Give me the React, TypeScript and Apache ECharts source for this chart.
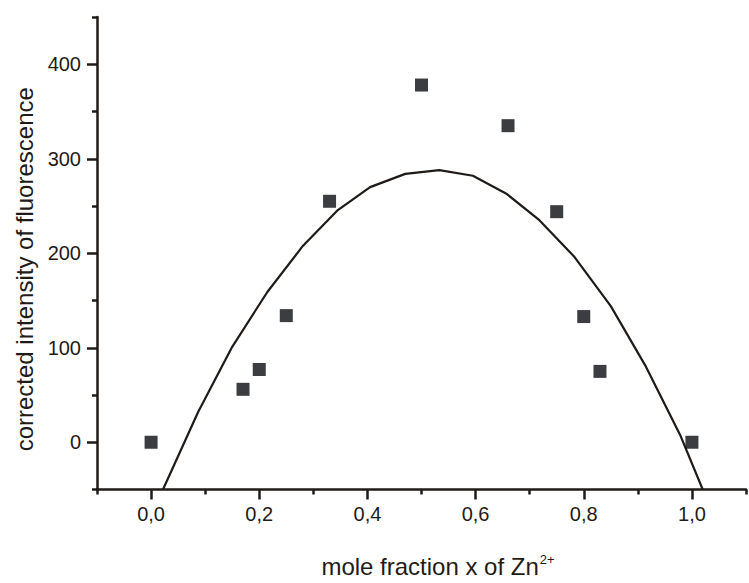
import React, { useEffect, useRef } from 'react';
import * as echarts from 'echarts';

const xMajor = [0, 0.2, 0.4, 0.6, 0.8, 1.0];
const xMinor = [-0.1, 0.1, 0.3, 0.5, 0.7, 0.9, 1.1];
const yMajor = [0, 100, 200, 300, 400];
const yMinor = [-50, 50, 150, 250, 350, 450];

const moleFraction = [0, 0.17, 0.2, 0.25, 0.33, 0.5, 0.66, 0.75, 0.8, 0.83, 1.0];
const intensity = [0, 56, 77, 134, 255, 378, 335, 244, 133, 75, 0];

const fitX = [0.022, 0.087, 0.150, 0.215, 0.281, 0.344, 0.405, 0.470, 0.533, 0.595, 0.657, 0.718, 0.783, 0.850, 0.915, 0.978, 1.020];
const fitY = [-50, 32, 101, 159, 208, 245, 270, 284, 288, 282, 263, 235, 196, 144, 80, 8, -50];

const INK = '#1f1b18';
const FONT = '"Liberation Sans", Arial, sans-serif';

export default function App() {
  const ref = useRef<HTMLDivElement>(null);
  useEffect(() => {
    document.body.style.margin = '0';
    if (!ref.current) return;
    const chart = echarts.init(ref.current, undefined, { renderer: 'svg' });
    const baseAxis = {
      splitLine: { show: false },
    };
    chart.setOption({
      animation: false,
      backgroundColor: '#ffffff',
      grid: { left: 97, right: 3, top: 17, bottom: 85, containLabel: false },
      xAxis: [
        {
          ...baseAxis,
          type: 'value',
          min: -0.1,
          max: 1.1,
          position: 'bottom',
          name: '{t|mole fraction x of Zn}{s|2+}',
          nameLocation: 'middle',
          nameGap: 63,
          nameTextStyle: {
            padding: [0, 0, 0, 33],
            rich: {
              t: { fontFamily: FONT, fontSize: 24, color: INK },
              s: { fontFamily: FONT, fontSize: 13, color: INK, verticalAlign: 'bottom', padding: [0, 0, 14, 1] },
            },
          },
          axisLine: { show: true, onZero: false, lineStyle: { color: INK, width: 2.5 } },
          axisTick: { show: true, customValues: xMajor, length: 10, lineStyle: { color: INK, width: 2.5 } },
          axisLabel: {
            show: true,
            customValues: xMajor,
            margin: 14,
            fontFamily: FONT,
            fontSize: 20,
            color: INK,
            formatter: (v: number) => v.toFixed(1).replace('.', ','),
          },
        },
        {
          ...baseAxis,
          type: 'value',
          min: -0.1,
          max: 1.1,
          position: 'bottom',
          axisLine: { show: false, onZero: false },
          axisTick: { show: true, customValues: xMinor, length: 5, lineStyle: { color: INK, width: 2.5 } },
          axisLabel: { show: false },
        },
      ],
      yAxis: [
        {
          ...baseAxis,
          type: 'value',
          min: -50,
          max: 450,
          position: 'left',
          name: 'corrected intensity of fluorescence',
          nameLocation: 'middle',
          nameGap: 60,
          nameTextStyle: { fontFamily: FONT, fontSize: 24, color: INK, padding: [0, 32, 0, 0] },
          axisLine: { show: true, onZero: false, lineStyle: { color: INK, width: 2.5 } },
          axisTick: { show: true, customValues: yMajor, length: 10, lineStyle: { color: INK, width: 2.5 } },
          axisLabel: {
            show: true,
            customValues: yMajor,
            margin: 16,
            fontFamily: FONT,
            fontSize: 20,
            color: INK,
          },
        },
        {
          ...baseAxis,
          type: 'value',
          min: -50,
          max: 450,
          position: 'left',
          axisLine: { show: false, onZero: false },
          axisTick: { show: true, customValues: yMinor, length: 5, lineStyle: { color: INK, width: 2.5 } },
          axisLabel: { show: false },
        },
      ],
      series: [
        {
          type: 'line',
          xAxisIndex: 0,
          yAxisIndex: 0,
          data: fitX.map((x, i) => [x, fitY[i]]),
          showSymbol: false,
          symbol: 'none',
          lineStyle: { color: INK, width: 2.2 },
          z: 2,
        },
        {
          type: 'scatter',
          xAxisIndex: 0,
          yAxisIndex: 0,
          data: moleFraction.map((x, i) => [x, intensity[i]]),
          symbol: 'rect',
          symbolSize: 13,
          itemStyle: { color: '#0b0d10' },
          z: 3,
        },
      ],
    });
    return () => chart.dispose();
  }, []);
  return <div ref={ref} style={{ width: 749, height: 583 }} />;
}
